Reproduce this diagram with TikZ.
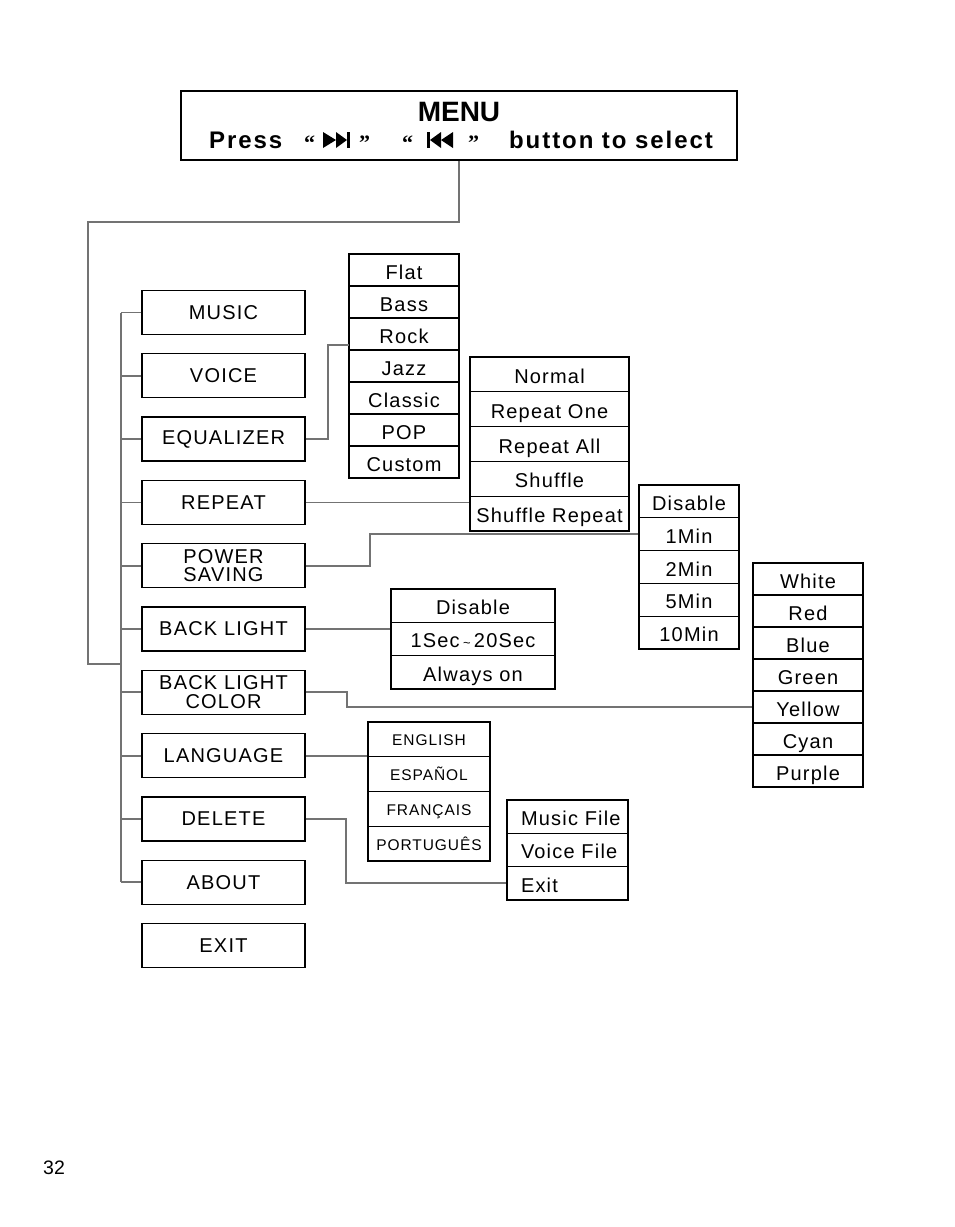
\documentclass[tikz,border=0pt]{standalone}
\usepackage{fontspec}
\setmainfont{Liberation Sans}
\newfontfamily\labelfont[LetterSpace=6]{Liberation Sans}
\newfontfamily\headfont[LetterSpace=8]{Liberation Sans}
\newfontfamily\quotefont{Liberation Serif}
\definecolor{linkgray}{HTML}{737373}
\tikzset{
	box/.style={draw, line width=1.3pt, inner sep=0pt, minimum width=163pt, minimum height=44pt,
		align=center, font=\labelfont\fontsize{20}{18.5}\selectfont},
	item/.style={draw, line width=1.3pt, inner sep=0pt, text height=18pt, text depth=0pt,
		font=\labelfont\fontsize{20}{20}\selectfont},
	headtext/.style={inner sep=0pt, font=\headfont\bfseries\fontsize{24}{24}\selectfont},
	quote/.style={inner sep=0pt, anchor=base west, font=\quotefont\bfseries\fontsize{22}{22}\selectfont},
	link/.style={draw=linkgray, line width=1.8pt},
}

\begin{document}
\begin{tikzpicture}[x=1pt, y=-1pt]
	\useasboundingbox (0,0) rectangle (954,1227);
	% header
	\node[draw, line width=1.3pt, inner sep=0pt, minimum width=556pt, minimum height=69pt] (menu) at (459,125.5) {};
	\node[anchor=base, inner sep=0pt, font=\bfseries\fontsize{28}{28}\selectfont] (title) at (459,121) {MENU};
	\node[headtext, anchor=base west] (press) at (209,148) {Press};
	\node[quote] (q1) at (304,150) {“};
	\node[quote] (q2) at (359,150) {”};
	\node[quote] (q3) at (402,150) {“};
	\node[quote] (q4) at (468,150) {”};
	\node[headtext, anchor=base east] (select) at (713,148) {button to select};
	\fill (323,132) -- (336,140) -- (323,148) -- cycle;
	\fill (336,132) -- (347,140) -- (336,148) -- cycle;
	\fill (347,132) rectangle (350,148);
	\fill (427,132) rectangle (430,148);
	\fill (441,132) -- (430,140) -- (441,148) -- cycle;
	\fill (453,132) -- (441,140) -- (453,148) -- cycle;

	% main menu
	\foreach \t [count=\i] in {MUSIC, VOICE, EQUALIZER, REPEAT, {POWER\\SAVING}, BACK LIGHT,
		{BACK LIGHT\\COLOR}, LANGUAGE, DELETE, ABOUT, EXIT}
	{
		\node[box] (m\i) at (223.5,{249.2+63.3*\i}) {\t};
	}
	\coordinate (spine) at (121,0);
	\coordinate (bend) at (88,222);
	\coordinate (join) at (121,664);
	\draw[link] (menu.south) |- (bend) |- (join);
	\draw[link] (m1.west -| spine) -- (m10.west -| spine);
	\foreach \i in {1,...,10}
	{
		\draw[link] (m\i.west) -- (m\i.west -| spine);
	}

	% sub menus
	\foreach \t [count=\i] in {Flat, Bass, Rock, Jazz, Classic, POP, Custom}
		\node[item, minimum width=110pt, minimum height=32pt] (eq\i) at (404,{238+32*\i}) {\t};
	\foreach \t [count=\i] in {Normal, Repeat One, Repeat All, Shuffle, Shuffle Repeat}
		\node[item, minimum width=159pt, minimum height=34.8pt] (rp\i) at (549.5,{339.6+34.8*\i}) {\t};
	\foreach \t [count=\i] in {Disable, 1Min, 2Min, 5Min, 10Min}
		\node[item, minimum width=100pt, minimum height=32.8pt] (tm\i) at (689,{468.6+32.8*\i}) {\t};
	\foreach \t [count=\i] in {Disable, 1Sec\,{\fontsize{13}{13}\selectfont\textasciitilde}\,20Sec, Always on}
		\node[item, minimum width=164pt, minimum height=33.3pt] (bl\i) at (473,{572.35+33.3*\i}) {\t};
	\foreach \t [count=\i] in {White, Red, Blue, Green, Yellow, Cyan, Purple}
		\node[item, minimum width=110pt, minimum height=32pt] (cl\i) at (808,{547+32*\i}) {\t};
	\foreach \t [count=\i] in {ENGLISH, ESPAÑOL, FRANÇAIS, PORTUGUÊS}
		\node[item, minimum width=122pt, minimum height=34.75pt, text height=13pt,
			font=\labelfont\fontsize{15.5}{15.5}\selectfont] (lg\i) at (429,{704.6+34.75*\i}) {\t};
	\foreach \t [count=\i] in {Music File, Voice File, Exit}
		\node[item, minimum width=121pt, minimum height=33.3pt] (dl\i) at (567.5,{783.35+33.3*\i}) {\makebox[93pt][l]{\t}};

	\coordinate (eqin) at (349,345);
	\draw[link] (m3.east) -- ++(22,0) |- (eqin);
	\draw[link] (m4.east) -- (m4.east -| rp5.west);
	\draw[link] (m5.east) -- ++(64,0) |- (tm2.west);
	\draw[link] (m6.east) -- (m6.east -| bl1.west);
	\draw[link] (m7.east) -- ++(41,0) |- (cl5.west);
	\draw[link] (m8.east) -- (m8.east -| lg1.west);
	\draw[link] (m9.east) -- ++(40,0) |- (dl3.west);

	\node[anchor=base west, inner sep=0pt, font=\fontsize{19.5}{19.5}\selectfont] (page) at (43,1174) {32};
\end{tikzpicture}
\end{document}
